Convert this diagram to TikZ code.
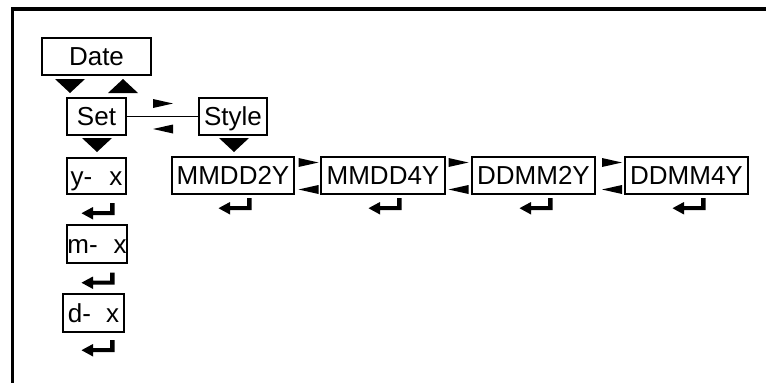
\documentclass[tikz,border=0pt]{standalone}
\usepackage{fontspec}
\setmainfont{Liberation Sans}

\begin{document}
\begin{tikzpicture}[x=1pt,y=-1pt,
    box/.style={draw,line width=1.6pt,inner sep=0pt,minimum height=37pt,
        text height=18.6pt,text depth=0pt,font=\fontsize{26}{30}\selectfont},
    tridown/.pic={\fill (-15,-7) -- (15,-7) -- (0,7) -- cycle;},
    triup/.pic={\fill (-15,7) -- (15,7) -- (0,-7) -- cycle;},
    triright/.pic={\fill (-10,-4.5) -- (10,0) -- (-10,4.5) -- cycle;},
    trileft/.pic={\fill (10,-4.5) -- (-10,0) -- (10,4.5) -- cycle;},
    enter/.pic={\fill (-16.5,1.7) -- (-5,-4.5) -- (-5,-0.3) -- (12,-0.3) -- (12,-8.5)
        -- (16.5,-8.5) -- (16.5,3.7) -- (-5,3.7) -- (-5,8) -- cycle;}]
    \useasboundingbox (0,0) rectangle (766,383);
    \fill (11,7) rectangle (766,11);
    \fill (11,7) rectangle (14,383);
    \node[box,minimum width=109pt] (date) at (96.5,56.5) {Date};
    \node[box,minimum width=59pt] (set) at (96.5,116.5) {Set};
    \node[box,minimum width=68pt] (style) at (233,116.5) {Style};
    \node[box,minimum width=59pt,minimum height=36pt] (year) at (96.5,176) {y-\hspace{17pt}x};
    \node[box,minimum width=60pt,minimum height=38pt] (month) at (97,244) {m-\hspace{16pt}x};
    \node[box,minimum width=61pt,minimum height=38pt] (day) at (93.5,313) {d-\hspace{15pt}x};
    \node[box,minimum width=122pt] (mdtwo) at (233,175.5) {MMDD2Y};
    \node[box,minimum width=124pt] (mdfour) at (383,175.5) {MMDD4Y};
    \node[box,minimum width=123pt] (dmtwo) at (533.5,175.5) {DDMM2Y};
    \node[box,minimum width=123pt] (dmfour) at (686.5,175.5) {DDMM4Y};
    \draw[line width=1.5pt] (set) -- (style);
    \pic at (70,86) {tridown};
    \pic at (123,86) {triup};
    \pic at (97,145) {tridown};
    \pic at (234,145) {tridown};
    \pic at (163,103.5) {triright};
    \pic at (163,129) {trileft};
    \foreach \x in {308.5,458.5,612} {
        \pic at (\x,162.5) {triright};
        \pic at (\x,189.5) {trileft};
    }
    \foreach \y in {211.5,281,348.5} \pic at (98,\y) {enter};
    \foreach \x in {235,385,536,689} \pic at (\x,206.5) {enter};
\end{tikzpicture}
\end{document}
